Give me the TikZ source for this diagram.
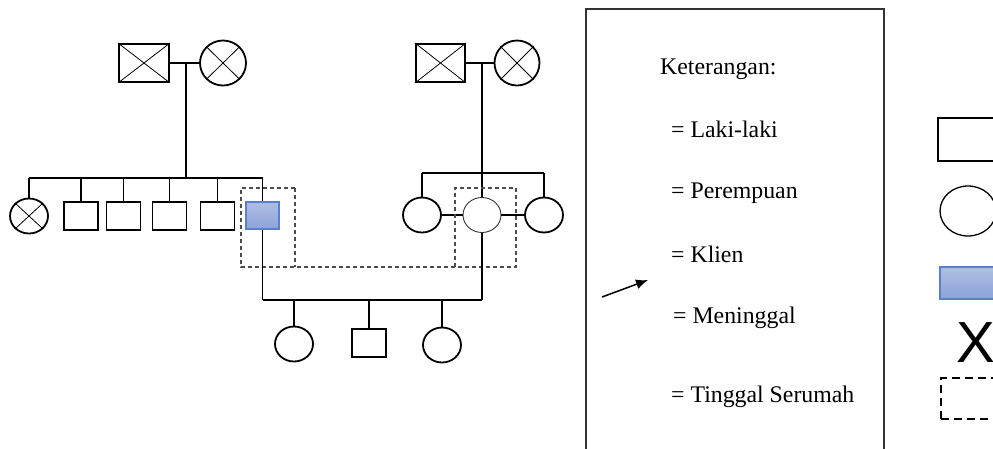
\documentclass[tikz,border=0pt]{standalone}
\usepackage{fontspec}
\setmainfont{Liberation Serif}
\newfontfamily\legsans{Liberation Sans}
\usetikzlibrary{shapes.geometric,arrows.meta}
\definecolor{clientfillA}{HTML}{AFBEE4}
\definecolor{clientfillB}{HTML}{8CA3D8}
\definecolor{clientdraw}{HTML}{5B7FCB}
\tikzset{
  male/.style={draw=black,line width=1.8pt,rectangle,minimum width=34pt,minimum height=28pt,inner sep=0pt},
  female/.style={draw=black,line width=1.8pt,ellipse,minimum width=38pt,minimum height=35pt,inner sep=0pt},
  client/.style={draw=clientdraw,line width=1.3pt,rectangle,minimum width=33pt,minimum height=27pt,inner sep=0pt,top color=clientfillA,bottom color=clientfillB},
  conn/.style={line width=1.2pt},
  bar/.style={line width=2pt},
  livebox/.style={dashed,dash pattern=on 4pt off 3pt,line width=1.1pt,draw=black!70},
  legtext/.style={anchor=base west,inner sep=0pt,font=\fontsize{23.8}{28}\selectfont},
}
\begin{document}
\begin{tikzpicture}[x=1pt,y=-1pt]
\useasboundingbox (0,0) rectangle (993,448);
\clip (0,0) rectangle (993,448);
% left grandparents
\node[male,minimum width=50pt,minimum height=38pt] (gfL) at (144,63) {};
\node[female,minimum width=46pt,minimum height=45pt] (gmL) at (223,63) {};
\draw[line width=0.8pt] (gfL.north west) -- (gfL.south east) (gfL.south west) -- (gfL.north east);
\draw[line width=0.8pt] (gmL.north west) -- (gmL.south east) (gmL.south west) -- (gmL.north east);
\draw[bar] (gfL.east) -- (gmL.west);
\coordinate (mL) at (186,63);
\coordinate (sbL) at (186,178);
% left siblings
\node[female] (sA) at (29,216) {};
\draw[line width=0.8pt] (sA.north west) -- (sA.south east) (sA.south west) -- (sA.north east);
\node[male] (sB) at (81,216) {};
\node[male] (sC) at (123.5,216) {};
\node[male] (sD) at (169.5,216) {};
\node[male] (sE) at (217.5,216) {};
\node[client] (cl) at (262.5,215.5) {};
\draw[conn] (mL) -- (sbL);
\draw[bar] (sA.north |- sbL) -- (cl.north |- sbL);
\foreach \n in {sA,sB,sC,sD,sE,cl} \draw[conn] (\n.north) -- (\n.north |- sbL);
% right grandparents
\node[male,minimum width=49pt,minimum height=38pt] (gfR) at (440.5,63) {};
\node[female,minimum width=45pt,minimum height=45pt] (gmR) at (517,63) {};
\draw[line width=0.8pt] (gfR.north west) -- (gfR.south east) (gfR.south west) -- (gfR.north east);
\draw[line width=0.8pt] (gmR.north west) -- (gmR.south east) (gmR.south west) -- (gmR.north east);
\draw[bar] (gfR.east) -- (gmR.west);
\coordinate (sbR) at (482,173);
% right siblings
\node[female] (rA) at (422,215) {};
\node[female,line width=0.9pt,draw=black!80] (wf) at (482,215) {};
\node[female] (rC) at (544,215) {};
\draw[conn] (wf.north) -- (wf.north |- gfR.east);
\draw[bar] (rA.north |- sbR) -- (rC.north |- sbR);
\draw[conn] (rA.north) -- (rA.north |- sbR);
\draw[conn] (rC.north) -- (rC.north |- sbR);
\draw[bar] (rA.east) -- (wf.west);
\draw[bar] (wf.east) -- (rC.west);
% living together box
\draw[livebox] (295,188) -- (241,188) -- (241,267) -- (516,267) -- (516,188) -- (455,188) -- (455,267);
\draw[livebox] (295,188) -- (295,267);
% children
\coordinate (cb) at (0,300);
\node[female] (kA) at (294,344) {};
\node[male] (kB) at (369,343) {};
\node[female] (kC) at (442,345) {};
\draw[conn] (cl.south) -- (cl.south |- cb);
\draw[conn] (wf.south) -- (wf.south |- cb);
\draw[bar] (cl.south |- cb) -- (wf.south |- cb);
\foreach \n in {kA,kB,kC} \draw[conn] (\n.north) -- (\n.north |- cb);
% legend box
\draw[line width=1.3pt,draw=black!80] (586,9) rectangle (884,460);
\node[legtext] (kt) at (660,74) {Keterangan:};
\node[legtext] (l1) at (671,137) {= Laki-laki};
\node[legtext] (l2) at (671,198) {= Perempuan};
\node[legtext] (l3) at (671,262) {= Klien};
\node[legtext] (l4) at (673,323) {= Meninggal};
\node[legtext] (l5) at (671,402) {= Tinggal Serumah};
\coordinate (arS) at (602,297);
\coordinate (arE) at (648,280);
\draw[line width=1.5pt,-{Latex[length=12pt,width=10pt]}] (arS) -- (arE);
% legend symbols
\node[draw=black,line width=1.5pt,rectangle,minimum width=80pt,minimum height=43pt,inner sep=0pt] (sy1) at (978,139.5) {};
\node[draw=black,line width=1.3pt,ellipse,minimum width=56pt,minimum height=50pt,inner sep=0pt] (sy2) at (968,211) {};
\node[draw=clientdraw,line width=1.3pt,rectangle,minimum width=80pt,minimum height=32pt,inner sep=0pt,top color=clientfillA,bottom color=clientfillB] (sy3) at (980,283) {};
\node[anchor=base west,inner sep=0pt,font=\legsans\fontsize{58}{60}\selectfont] (sy4) at (956,362) {X};
\node[draw=black,line width=1.3pt,dashed,dash pattern=on 8pt off 5pt,rectangle,minimum width=80pt,minimum height=41pt,inner sep=0pt] (sy5) at (981,398.5) {};
\end{tikzpicture}
\end{document}
